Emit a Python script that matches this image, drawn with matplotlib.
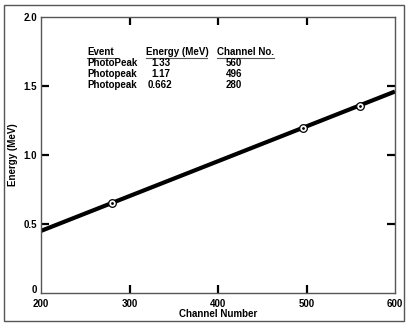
import numpy as np
import matplotlib.pyplot as plt
import matplotlib.transforms as mtransforms
from matplotlib.patches import Rectangle

# Calibration table
events = ['PhotoPeak', 'Photopeak', 'Photopeak']
energy_labels = ['1.33', '1.17', '0.662']
channel_labels = ['560', '496', '280']

# Points as drawn on the plot (they sit on the fitted line)
channels = [560, 496, 280]
point_energies = [1.355, 1.198, 0.655]

# Fitted calibration line, read at the axis ends
line_channels = [200, 600]
line_energies = [0.45, 1.46]

plt.rcParams['font.family'] = ['Liberation Sans', 'DejaVu Sans']
plt.rcParams['font.weight'] = 'bold'

fig = plt.figure(figsize=(4.08, 3.23), dpi=100)
ax = fig.add_axes([41 / 408, 1 - 293 / 323, 354 / 408, 276 / 323])

# outer frame around the whole picture
fig.patches.append(Rectangle((4 / 408, 2 / 323), 400 / 408, 316 / 323,
                             transform=fig.transFigure, fill=False,
                             edgecolor='#555555', linewidth=1.0))

ax.plot(line_channels, line_energies, color='black', linewidth=3.0,
        solid_capstyle='butt', zorder=2)
ax.plot(channels, point_energies, 'o', markersize=5.5, markerfacecolor='white',
        markeredgecolor='black', markeredgewidth=0.9, zorder=3)
ax.plot(channels, point_energies, '.', markersize=2, color='black', zorder=4)

ax.set_xlim(200, 600)
ax.set_ylim(0, 2.0)
ax.set_xticks([200, 300, 400, 500, 600])
ax.set_yticks([0, 0.5, 1.0, 1.5, 2.0])
ax.set_xticklabels(['200', '300', '400', '500', '600'])
ax.set_yticklabels(['0', '0.5', '1.0', '1.5', '2.0'])
ax.tick_params(direction='in', length=5.5, width=1.6, labelsize=7,
               top=True, right=True, pad=3)
ax.tick_params(axis='x', pad=4)
for tk in [ax.xaxis.get_major_ticks()[0], ax.xaxis.get_major_ticks()[-1],
           ax.yaxis.get_major_ticks()[0], ax.yaxis.get_major_ticks()[-1]]:
    tk.tick1line.set_visible(False)
    tk.tick2line.set_visible(False)
for s in ax.spines.values():
    s.set_color('#555555')
    s.set_linewidth(1.0)

# lift the "0" label a little so it clears the "200" below it
zero_lbl = ax.yaxis.get_major_ticks()[0].label1
zero_lbl.set_transform(zero_lbl.get_transform() +
                       mtransforms.ScaledTranslation(0, 3 / 72, fig.dpi_scale_trans))

ax.set_xlabel('Channel Number', fontsize=7, fontweight='bold', labelpad=0)
ax.set_ylabel('Energy (MeV)', fontsize=7, fontweight='bold', labelpad=4)

# table of peaks
fs = 7
y0 = 1.745
dy = 0.08
ax.text(252, y0, 'Event', fontsize=fs, fontweight='bold', va='center')
ax.text(319, y0, 'Energy (MeV)', fontsize=fs, fontweight='bold', va='center')
ax.text(399, y0, 'Channel No.', fontsize=fs, fontweight='bold', va='center')
for x1, x2 in [(252, 282), (319, 388), (399, 463)]:
    ax.plot([x1, x2], [y0 - 0.042, y0 - 0.042], color='#555555', linewidth=0.8)
for i in range(len(events)):
    y = y0 - (i + 1) * dy
    ax.text(252, y, events[i], fontsize=fs, fontweight='bold', va='center')
    xe = 325 if len(energy_labels[i]) == 4 else 321
    ax.text(xe, y, energy_labels[i], fontsize=fs, fontweight='bold', va='center')
    ax.text(409, y, channel_labels[i], fontsize=fs, fontweight='bold', va='center')

fig.savefig('out.png', dpi=100)
